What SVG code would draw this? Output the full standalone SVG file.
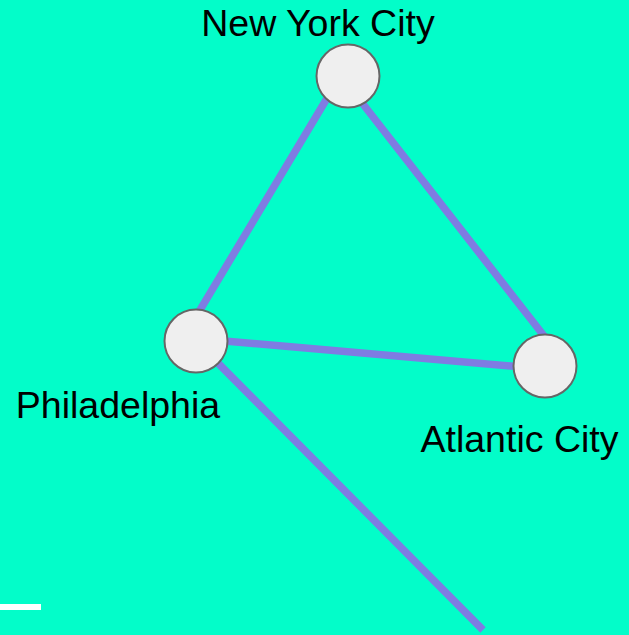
<svg xmlns="http://www.w3.org/2000/svg" width="629" height="635" viewBox="0 0 629 635">
<style>
.edge{stroke:#7f7ce2;stroke-width:7.5;fill:none}
.node circle{fill:#efefef;stroke:#666;stroke-width:2}
text{font-family:"Liberation Sans",Arial,sans-serif;font-size:37.5px;fill:#000}
</style>
<rect width="629" height="635" fill="#03fdc9"/>
<rect x="0" y="604" width="41" height="6" fill="#fff"/>
<g id="connectors">
<line class="edge" x1="332" y1="90" x2="188" y2="330"/>
<line class="edge" x1="352" y1="90" x2="555" y2="350"/>
<line class="edge" x1="196" y1="338.5" x2="545" y2="369"/>
<line class="edge" x1="196" y1="341" x2="483" y2="630"/>
</g>
<g id="nyc" class="node"><circle cx="348" cy="76" r="31.5"/><text x="318" y="36" text-anchor="middle">New York City</text></g>
<g id="philadelphia" class="node"><circle cx="196" cy="341" r="31.5"/><text x="118" y="418" text-anchor="middle">Philadelphia</text></g>
<g id="atlantic" class="node"><circle cx="545" cy="366" r="31.5"/><text x="519.5" y="452" text-anchor="middle">Atlantic City</text></g>
</svg>
